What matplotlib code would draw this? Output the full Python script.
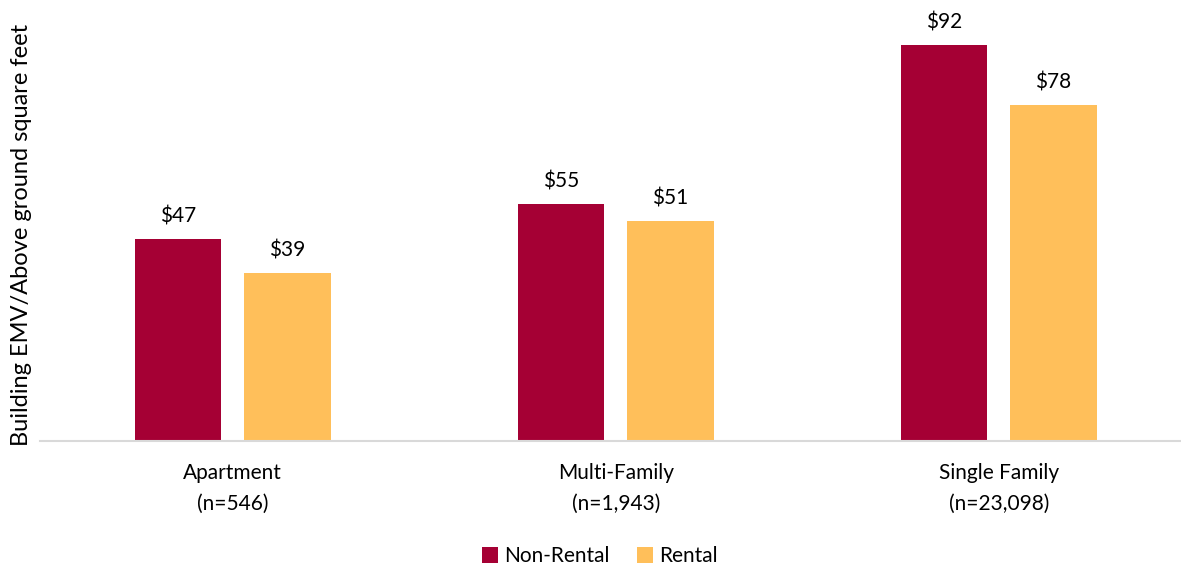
import matplotlib
matplotlib.use("Agg")
import matplotlib.pyplot as plt
import numpy as np

categories = ["Apartment\n(n=546)", "Multi-Family\n(n=1,943)", "Single Family\n(n=23,098)"]
non_rental = [47, 55, 92]
rental = [39, 51, 78]
series_names = ["Non-Rental", "Rental"]
colors = ["#A50034", "#FFBF5A"]

plt.rcParams["font.family"] = ["Lato", "DejaVu Sans"]

fig = plt.figure(figsize=(11.81, 5.67), dpi=100)
ax = fig.add_axes([0.034, 0.222, 0.966, 0.760])

x = np.arange(len(categories))
w = 0.226
off = 0.143
b1 = ax.bar(x - off, non_rental, w, color=colors[0], label=series_names[0])
b2 = ax.bar(x + off, rental, w, color=colors[1], label=series_names[1])

for bars, vals in ((b1, non_rental), (b2, rental)):
    for b, v in zip(bars, vals):
        ax.annotate(f"${v}", (b.get_x() + b.get_width() / 2, v),
                    xytext=(0, 9), textcoords="offset points",
                    ha="center", va="bottom", fontsize=15, color="#000000")

ax.set_xlim(-0.503, 2.476)
ax.set_ylim(0, 100)
ax.set_xticks(x)
ax.set_xticklabels(categories, fontsize=15, linespacing=1.65)
ax.tick_params(axis="x", length=0, pad=16)
ax.set_yticks([])
for s in ("top", "right", "left"):
    ax.spines[s].set_visible(False)
ax.spines["bottom"].set_color("#D9D9D9")
ax.spines["bottom"].set_linewidth(1.5)

fig.text(0.018, 1 - 235 / 567, "Building EMV/Above ground square feet",
         rotation=90, ha="center", va="center", fontsize=17)

fig.legend(handles=[b1, b2], labels=series_names, loc="center",
           bbox_to_anchor=(0.508, 0.019), ncol=2, frameon=False, fontsize=15,
           handlelength=0.75, handleheight=0.75, handletextpad=0.3, columnspacing=1.3)

fig.savefig("out.png", dpi=100)
